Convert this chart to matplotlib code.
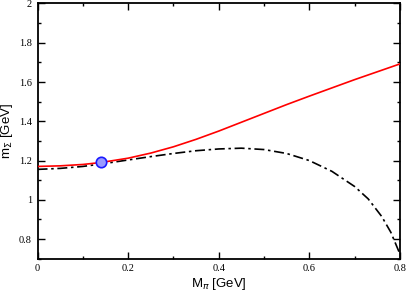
import matplotlib
matplotlib.use("Agg")
import matplotlib.pyplot as plt
from matplotlib.ticker import MultipleLocator, FixedLocator

# data
x_red = [0.0, 0.05, 0.1, 0.14, 0.2, 0.25, 0.3, 0.35, 0.4, 0.45, 0.5, 0.55, 0.6, 0.65, 0.7, 0.75, 0.8]
y_red = [1.170, 1.173, 1.180, 1.190, 1.212, 1.238, 1.270, 1.308, 1.350, 1.395, 1.440, 1.485, 1.528, 1.570, 1.612, 1.652, 1.692]
x_blk = [0.0, 0.05, 0.1, 0.14, 0.2, 0.25, 0.3, 0.35, 0.4, 0.45, 0.5, 0.55, 0.6, 0.65, 0.7, 0.73, 0.76, 0.78, 0.8]
y_blk = [1.155, 1.160, 1.170, 1.182, 1.203, 1.220, 1.236, 1.250, 1.259, 1.263, 1.256, 1.236, 1.200, 1.145, 1.068, 1.005, 0.915, 0.835, 0.725]
pt_x = [0.14]
pt_y = [1.195]

xticks = [0, 0.2, 0.4, 0.6, 0.8]
xticklabels = ["0", "0.2", "0.4", "0.6", "0.8"]
yticks = [0.8, 1.0, 1.2, 1.4, 1.6, 1.8, 2.0]
yticklabels = ["0.8", "1", "1.2", "1.4", "1.6", "1.8", "2"]

fig = plt.figure(figsize=(4.08, 2.91), dpi=100)
ax = fig.add_axes([0.092, 0.111, 0.888, 0.877])

ax.plot(x_red, y_red, color="#ff0000", lw=1.2, zorder=3)
ax.plot(x_blk, y_blk, color="black", lw=1.2, linestyle=(0, (6, 2.2, 1.5, 2.2)), zorder=2)
ax.plot(pt_x, pt_y, marker="o", ms=7.5, mfc="#9a9aff", mec="#1a1aff", mew=1.2, ls="none", zorder=4)

ax.set_xlim(0, 0.8)
ax.set_ylim(0.7, 2.0)
ax.xaxis.set_major_locator(FixedLocator(xticks))
ax.set_xticklabels(xticklabels)
ax.yaxis.set_major_locator(FixedLocator(yticks))
ax.set_yticklabels(yticklabels)
ax.xaxis.set_minor_locator(MultipleLocator(0.1))
ax.yaxis.set_minor_locator(MultipleLocator(0.1))
ax.tick_params(which="both", direction="in", top=True, right=True, width=1.0)
ax.tick_params(which="major", length=5, labelsize=7.5, pad=4)
ax.tick_params(which="minor", length=2.5)
for lab in ax.get_xticklabels() + ax.get_yticklabels():
    lab.set_family("Liberation Serif")
for s in ax.spines.values():
    s.set_linewidth(1.3)

ax.set_xlabel(r"M$_\pi$ [GeV]", family="Liberation Sans", fontsize=9.5, labelpad=2)
ax.set_ylabel(r"m$_\Sigma$ [GeV]", family="Liberation Sans", fontsize=9.5, labelpad=3)

fig.savefig("out.png", dpi=100)
